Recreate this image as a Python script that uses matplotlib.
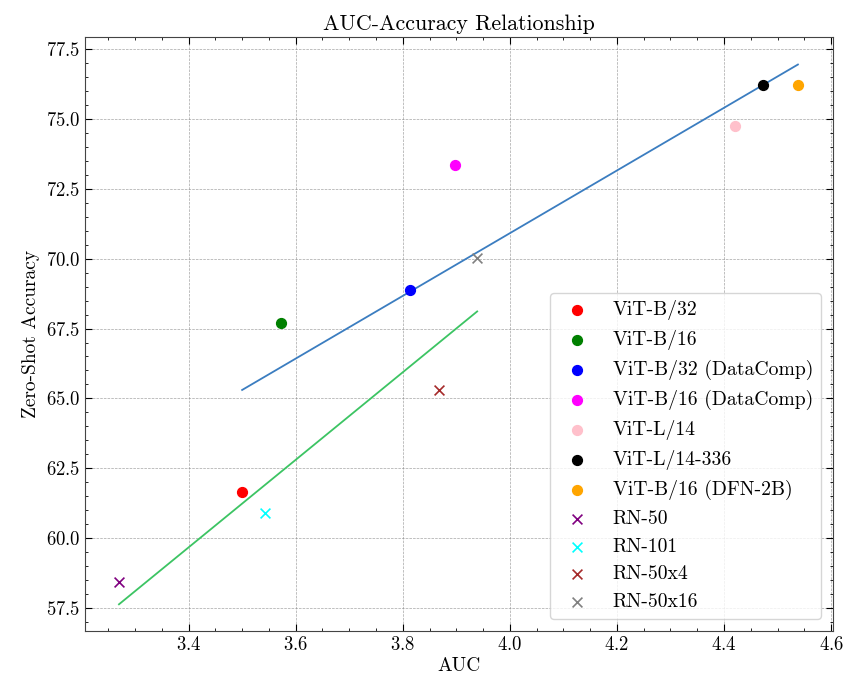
import numpy as np
import matplotlib
matplotlib.use('Agg')
import matplotlib.pyplot as plt
from matplotlib.ticker import AutoMinorLocator

# ViT models (circles)
vit_names = ['ViT-B/32', 'ViT-B/16', 'ViT-B/32 (DataComp)', 'ViT-B/16 (DataComp)',
             'ViT-L/14', 'ViT-L/14-336', 'ViT-B/16 (DFN-2B)']
vit_auc = [3.500, 3.572, 3.813, 3.897, 4.421, 4.472, 4.538]
vit_acc = [61.66, 67.70, 68.87, 73.35, 74.76, 76.21, 76.21]
vit_colors = ['red', 'green', 'blue', 'magenta', 'pink', 'black', 'orange']

# ResNet models (crosses)
rn_names = ['RN-50', 'RN-101', 'RN-50x4', 'RN-50x16']
rn_auc = [3.270, 3.543, 3.867, 3.939]
rn_acc = [58.42, 60.89, 65.29, 70.04]
rn_colors = ['purple', 'cyan', 'brown', 'gray']

plt.rcParams['font.family'] = 'serif'
plt.rcParams['font.serif'] = ['cmr10', 'DejaVu Serif']
plt.rcParams['axes.formatter.use_mathtext'] = True
plt.rcParams['mathtext.fontset'] = 'cm'

fig = plt.figure(figsize=(8.48, 6.76), dpi=100)
ax = fig.add_axes([0.1002, 0.0666, 0.8821, 0.8787])

for n, x, y, c in zip(vit_names, vit_auc, vit_acc, vit_colors):
    ax.scatter(x, y, color=c, marker='o', s=50, label=n, zorder=3)
for n, x, y, c in zip(rn_names, rn_auc, rn_acc, rn_colors):
    ax.scatter(x, y, color=c, marker='x', s=50, linewidths=1.2, label=n, zorder=3)

# linear fits
k, d = np.polyfit(vit_auc, vit_acc, 1)
xs = np.array([min(vit_auc), max(vit_auc)])
ax.plot(xs, k*xs + d, color='#3b7dc0', lw=1.3, zorder=2)
k, d = np.polyfit(rn_auc, rn_acc, 1)
xs = np.array([min(rn_auc), max(rn_auc)])
ax.plot(xs, k*xs + d, color='#3cc463', lw=1.3, zorder=2)

ax.set_title('AUC-Accuracy Relationship', fontsize=15.8, pad=5)
ax.set_xlabel('AUC', fontsize=14, labelpad=2)
ax.set_ylabel('Zero-Shot Accuracy', fontsize=14)
ax.set_xticks([3.4, 3.6, 3.8, 4.0, 4.2, 4.4, 4.6])
ax.set_yticks([57.5, 60.0, 62.5, 65.0, 67.5, 70.0, 72.5, 75.0, 77.5])
ax.xaxis.set_minor_locator(AutoMinorLocator(4))
ax.yaxis.set_minor_locator(AutoMinorLocator(5))
ax.tick_params(which='both', direction='in', top=True, right=True, labelsize=13.5)
ax.tick_params(which='major', length=5)
ax.tick_params(which='minor', length=2.5)
ax.set_xlim(3.2065, 4.6035)
ax.set_ylim(56.68, 77.93)
ax.grid(True, which='major', linestyle='--', color='gray', lw=0.5, alpha=0.7)
for s in ax.spines.values():
    s.set_color('#444444')

ax.legend(loc='lower right', fontsize=14.2, frameon=True, borderaxespad=0.6)

fig.savefig('out.png', dpi=100)
